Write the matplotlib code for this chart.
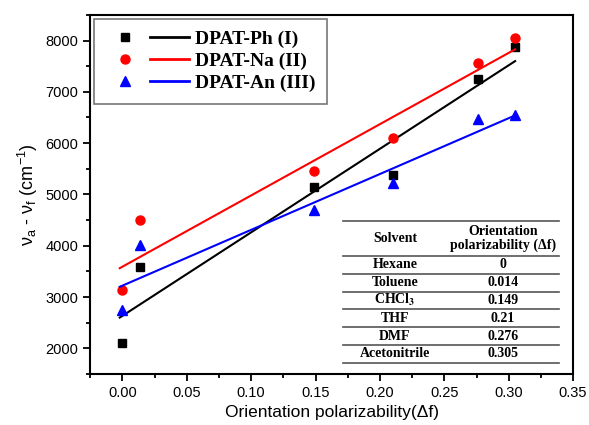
import numpy as np
import matplotlib
matplotlib.use("Agg")
import matplotlib.pyplot as plt
from matplotlib.ticker import MultipleLocator
from matplotlib.lines import Line2D
from matplotlib.legend_handler import HandlerTuple

plt.rcParams['font.family'] = ['Liberation Sans', 'DejaVu Sans']
plt.rcParams['mathtext.default'] = 'regular'

# solvent polarity (orientation polarizability)
df = [0, 0.014, 0.149, 0.21, 0.276, 0.305]
# Stokes shift values (cm-1)
ph = [2100, 3580, 5150, 5370, 7250, 7880]
na = [3130, 4500, 5450, 6100, 7570, 8050]
an = [2750, 4010, 4700, 5230, 6470, 6550]

solvents = ['Hexane', 'Toluene', 'CHCl$_\\mathbf{3}$', 'THF', 'DMF', 'Acetonitrile']
df_labels = ['0', '0.014', '0.149', '0.21', '0.276', '0.305']

fig = plt.figure(figsize=(5.89, 4.25), dpi=100)
ax = fig.add_axes([0.153, 0.12, 0.820, 0.845])

series = [(ph, 'k', 's', 6, 'DPAT-Ph (I)'),
          (na, 'r', 'o', 6.5, 'DPAT-Na (II)'),
          (an, 'b', '^', 7, 'DPAT-An (III)')]

handles = []
xfit = np.array([-0.002, 0.305])
for y, c, m, ms, lab in series:
    ax.plot(df, y, m, color=c, ms=ms, ls='none')
    k, b = np.polyfit(df, y, 1)
    ax.plot(xfit, k * xfit + b, color=c, lw=1.5)
    hm = Line2D([], [], marker=m, color=c, ms=ms, ls='none')
    hl = Line2D([], [], color=c, lw=2)
    handles.append((hm, hl))

leg = ax.legend(handles, [s[4] for s in series], loc='upper left',
                handler_map={tuple: HandlerTuple(ndivide=None, pad=0.3)},
                prop={'family': 'Liberation Serif', 'weight': 'bold', 'size': 14},
                frameon=True, fancybox=False, edgecolor='#555555',
                borderaxespad=0.2, borderpad=0.6, handlelength=4.3,
                labelspacing=0.22, handletextpad=0.3)
leg.get_frame().set_linewidth(1.2)

ax.set_xlim(-0.025, 0.35)
ax.set_ylim(1500, 8500)
ax.xaxis.set_major_locator(MultipleLocator(0.05))
ax.xaxis.set_minor_locator(MultipleLocator(0.025))
ax.yaxis.set_major_locator(MultipleLocator(1000))
ax.yaxis.set_minor_locator(MultipleLocator(500))
ax.xaxis.set_major_formatter(plt.FuncFormatter(lambda v, p: '%.2f' % v))
ax.tick_params(which='major', length=5, width=1.3, labelsize=10.5)
ax.tick_params(which='minor', length=3, width=1.3)
for s in ax.spines.values():
    s.set_linewidth(1.5)

ax.set_xlabel('Orientation polarizability(\u0394f)', fontsize=12.5)
ax.set_ylabel('\u03bd$_a$ - \u03bd$_f$ (cm$^{-1}$)', fontsize=13)

# inset table
x0, x1 = 0.524, 0.971
c1, c2 = 0.631, 0.855
ytop, yhead = 0.427, 0.329
ybot = 0.031
rows = np.linspace(yhead, ybot, len(solvents) + 1)
tf = dict(family='Liberation Serif', weight='bold', fontsize=10,
          ha='center', va='center', transform=ax.transAxes, math_fontfamily='stix')
ax.plot([x0, x1], [ytop, ytop], color='#555555', lw=1.2, transform=ax.transAxes)
for yy in rows:
    ax.plot([x0, x1], [yy, yy], color='#555555', lw=1.2, transform=ax.transAxes)
ax.text(c1, (ytop + yhead) / 2, 'Solvent', **tf)
ax.text(c2, (ytop + yhead) / 2, 'Orientation\npolarizability (\u0394f)', linespacing=1.05, **tf)
for i, (s, v) in enumerate(zip(solvents, df_labels)):
    ym = (rows[i] + rows[i + 1]) / 2
    ax.text(c1, ym, s, **tf)
    ax.text(c2, ym, v, **tf)

fig.savefig('out.png', dpi=100)
